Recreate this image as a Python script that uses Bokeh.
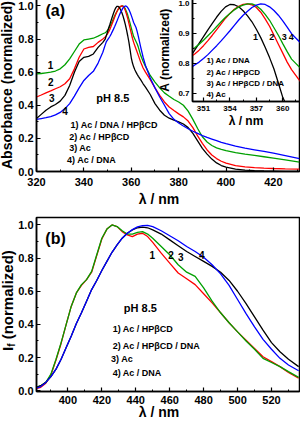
from bokeh.plotting import figure
from bokeh.models import (Range1d, SingleIntervalTicker, FixedTicker,
                          NumeralTickFormatter, Label, GridBox, Div)
from bokeh.embed import file_html
from bokeh.resources import INLINE

FONT = "Liberation Sans"

# ---------------- panel (a): absorption ----------------
wl_a = [320, 322, 324, 326, 328, 330, 332, 334, 336, 338, 340, 342, 344, 346, 348,
        349, 349.5, 350, 350.5, 351, 351.5, 352, 352.5, 353, 353.5, 354, 354.5, 355,
        355.5, 356, 356.5, 357, 357.5, 358, 358.5, 359, 359.5, 360, 360.5, 361, 361.5,
        362, 362.5,
        363, 364, 365, 366,
        368, 370, 372, 374, 376, 378, 380, 382, 384, 386, 388, 390, 392, 394, 396, 398, 400,
        404, 408, 412, 416, 420, 425, 431]

abs_ac_dna_hpbcd = [0.59, 0.592, 0.596, 0.60, 0.607, 0.62, 0.645, 0.68, 0.725, 0.77, 0.795, 0.80, 0.805, 0.818, 0.832,
                    0.838, 0.845, 0.853, 0.865, 0.878, 0.893, 0.908, 0.924, 0.94, 0.955, 0.968, 0.98, 0.99,
                    0.996, 1.0, 1.0, 0.994, 0.982, 0.965, 0.945, 0.92, 0.895, 0.867, 0.84, 0.815, 0.80,
                    0.785, 0.77,
                    0.75, 0.70, 0.665, 0.635,
                    0.58, 0.54, 0.505, 0.475, 0.455, 0.435, 0.42, 0.40, 0.365, 0.315, 0.26, 0.21, 0.178, 0.157, 0.143, 0.134, 0.126,
                    0.114, 0.105, 0.097, 0.089, 0.081, 0.07, 0.056]

abs_ac_hpbcd = [0.45, 0.462, 0.475, 0.487, 0.50, 0.512, 0.53, 0.56, 0.62, 0.69, 0.74, 0.75, 0.755, 0.78, 0.80,
                0.812, 0.822, 0.832, 0.845, 0.86, 0.877, 0.895, 0.914, 0.933, 0.952, 0.968, 0.982, 0.992,
                0.998, 1.0, 0.997, 0.988, 0.972, 0.95, 0.925, 0.895, 0.865, 0.835, 0.805, 0.78, 0.76,
                0.74, 0.72,
                0.70, 0.66, 0.625, 0.60,
                0.555, 0.505, 0.46, 0.42, 0.39, 0.368, 0.348, 0.33, 0.305, 0.265, 0.215, 0.17, 0.13, 0.10, 0.078, 0.062, 0.05,
                0.036, 0.028, 0.023, 0.02, 0.018, 0.016, 0.014]

abs_ac = [0.32, 0.345, 0.37, 0.39, 0.405, 0.425, 0.46, 0.52, 0.60, 0.665, 0.69, 0.695, 0.71, 0.75, 0.78,
          0.80, 0.822, 0.845, 0.868, 0.89, 0.913, 0.935, 0.956, 0.975, 0.99, 0.998, 0.997, 0.99,
          0.977, 0.96, 0.94, 0.915, 0.887, 0.855, 0.82, 0.782, 0.735, 0.687, 0.655, 0.632, 0.615,
          0.60, 0.587,
          0.575, 0.553, 0.53, 0.51,
          0.465, 0.41, 0.37, 0.34, 0.322, 0.31, 0.30, 0.287, 0.265, 0.23, 0.185, 0.14, 0.105, 0.075, 0.052, 0.036, 0.026,
          0.014, 0.008, 0.005, 0.003, 0.002, 0.001, 0.0]

abs_ac_dna = [0.315, 0.32, 0.325, 0.332, 0.342, 0.357, 0.38, 0.41, 0.455, 0.505, 0.55, 0.58, 0.605, 0.655, 0.72,
              0.765, 0.785, 0.795, 0.805, 0.817, 0.83, 0.845, 0.86, 0.876, 0.893, 0.91, 0.928, 0.946,
              0.962, 0.975, 0.988, 0.996, 1.0, 0.998, 0.99, 0.978, 0.962, 0.943, 0.922, 0.90, 0.885,
              0.87, 0.845,
              0.815, 0.75, 0.69, 0.64,
              0.565, 0.505, 0.45, 0.40, 0.35, 0.315, 0.293, 0.275, 0.258, 0.243, 0.23, 0.217, 0.206, 0.196, 0.186, 0.176, 0.168,
              0.153, 0.141, 0.131, 0.121, 0.111, 0.096, 0.078]

legend_a = ["1) Ac / DNA / HP\u03b2CD", "2) Ac / HP\u03b2CD", "3) Ac", "4) Ac / DNA"]
legend_inset = ["1) Ac / DNA", "2) Ac / HP\u03b2CD", "3) Ac / HP\u03b2CD / DNA", "4) Ac"]

# ---------------- panel (b): fluorescence ----------------
wl_b = [381.5, 384, 387, 390, 393, 396, 399, 402, 405, 408, 411, 414, 417, 420, 423, 426,
        429, 432, 435, 438, 441, 444, 447, 450, 455, 460, 465, 470, 475, 480, 485, 490,
        495, 500, 505, 510, 515, 520, 525, 530, 536]

fl_ac_hpbcd = [0.012, 0.02, 0.045, 0.095, 0.185, 0.285, 0.40, 0.51, 0.59, 0.635, 0.67, 0.715, 0.815, 0.915, 0.975, 1.0,
               0.99, 0.96, 0.94, 0.93, 0.945, 0.95, 0.93, 0.895, 0.83, 0.77, 0.71, 0.675, 0.64, 0.585, 0.53, 0.47,
               0.41, 0.355, 0.305, 0.255, 0.205, 0.175, 0.145, 0.11, 0.075]
fl_ac_hpbcd_dna = [0.02, 0.03, 0.05, 0.10, 0.19, 0.29, 0.40, 0.51, 0.59, 0.64, 0.67, 0.72, 0.82, 0.92, 0.975, 1.0,
                   0.99, 0.965, 0.945, 0.945, 0.955, 0.96, 0.945, 0.92, 0.87, 0.82, 0.76, 0.715, 0.69, 0.62, 0.54, 0.47,
                   0.41, 0.355, 0.30, 0.25, 0.195, 0.17, 0.145, 0.115, 0.08]
fl_ac = [0.02, 0.03, 0.05, 0.085, 0.13, 0.19, 0.26, 0.33, 0.405, 0.47, 0.54, 0.61, 0.665, 0.725, 0.78, 0.835,
         0.88, 0.92, 0.95, 0.97, 0.983, 0.987, 0.983, 0.97, 0.945, 0.91, 0.875, 0.84, 0.81, 0.78, 0.75, 0.715,
         0.665, 0.60, 0.525, 0.445, 0.365, 0.29, 0.235, 0.19, 0.145]
fl_ac_dna = [0.015, 0.025, 0.05, 0.085, 0.13, 0.19, 0.26, 0.33, 0.405, 0.47, 0.54, 0.61, 0.665, 0.725, 0.78, 0.835,
             0.88, 0.92, 0.95, 0.972, 0.988, 0.996, 0.998, 0.99, 0.965, 0.935, 0.905, 0.87, 0.84, 0.805, 0.76, 0.705,
             0.635, 0.55, 0.465, 0.385, 0.31, 0.25, 0.195, 0.155, 0.12]

legend_b = ["1) Ac / HP\u03b2CD", "2) Ac / HP\u03b2CD / DNA", "3) Ac", "4) Ac / DNA"]

BLACK, RED, GREEN, BLUE = "#000000", "#ff0000", "#00a000", "#0000ff"
LW = 1.3


def style(p, tick_size="11px", title_size="14px"):
    p.outline_line_color = "black"
    p.outline_line_width = 1.5
    p.xgrid.visible = False
    p.ygrid.visible = False
    for ax in list(p.xaxis) + list(p.yaxis):
        ax.major_tick_in = 4
        ax.major_tick_out = 0
        ax.minor_tick_in = 2
        ax.minor_tick_out = 0
        ax.axis_line_width = 1.5
        ax.major_tick_line_width = 1.2
        ax.major_label_text_font = FONT
        ax.major_label_text_font_style = "bold"
        ax.major_label_text_font_size = tick_size
        ax.major_label_text_color = "black"
        ax.axis_label_text_font = FONT
        ax.axis_label_text_font_style = "bold"
        ax.axis_label_text_font_size = title_size
        ax.axis_label_text_color = "black"
        ax.major_label_standoff = 3
        ax.axis_label_standoff = 0


def lab(p, x, y, text, size, align="left", baseline="middle"):
    p.add_layout(Label(x=x, y=y, text=text, text_font=FONT, text_font_style="bold",
                       text_font_size=size, text_align=align, text_baseline=baseline,
                       text_color="black"))


def html_title(text, width, height, margin, vertical=False, size=14):
    font = ("font-family:'Liberation Sans';font-weight:bold;font-size:%dpx;"
            "line-height:%dpx;color:#000;white-space:nowrap;overflow:visible;" % (size, size + 2))
    if vertical:
        html = ('<div style="width:%dpx;height:%dpx;writing-mode:vertical-rl;'
                'transform:rotate(180deg);text-align:center;%s">%s</div>'
                % (width, height, font, text))
    else:
        html = '<div style="width:%dpx;text-align:center;%s">%s</div>' % (width, font, text)
    return Div(text=html, width=width, height=height, margin=margin)


# ---- main (a)
pa = figure(width=304, height=210, x_range=Range1d(320, 431), y_range=Range1d(0, 1.045),
            output_backend="svg", toolbar_location=None,
            min_border_top=1, min_border_right=1, min_border_left=38, min_border_bottom=31,
            y_axis_label="Absorbance (normalized)")
style(pa)
pa.xaxis.major_label_standoff = 6
pa.xaxis.ticker = SingleIntervalTicker(interval=20, num_minor_ticks=2)
pa.yaxis.ticker = SingleIntervalTicker(interval=0.2, num_minor_ticks=2)
pa.yaxis.formatter = NumeralTickFormatter(format="0.0")
pa.line(wl_a, abs_ac_dna_hpbcd, color=GREEN, line_width=LW)
pa.line(wl_a, abs_ac_hpbcd, color=RED, line_width=LW)
pa.line(wl_a, abs_ac, color=BLACK, line_width=LW)
pa.line(wl_a, abs_ac_dna, color=BLUE, line_width=LW)
lab(pa, 323.8, 0.97, "(a)", "16px")
lab(pa, 352.2, 0.444, "pH 8.5", "11px", align="center")
for t, x, y in [("1", 325.9, 0.645), ("2", 326.0, 0.542), ("3", 326.4, 0.444), ("4", 332.0, 0.367)]:
    lab(pa, x, y, t, "10px", align="center")
for t, x, y in zip(legend_a, [334.4, 333.8, 333.8, 332.9], [0.281, 0.211, 0.140, 0.070]):
    lab(pa, x, y, t, "9px")
xtitle_a = html_title("\u03bb / nm", 60, 16, (194, 0, 0, 133))

# ---- inset
pi = figure(width=148, height=140, x_range=Range1d(349.75, 361.9), y_range=Range1d(0.673, 1.018),
            output_backend="svg", toolbar_location=None,
            min_border_top=1, min_border_right=1, min_border_left=32, min_border_bottom=36,
            x_axis_label="\u03bb / nm", y_axis_label="A (normalized)",
            margin=(0, 0, 0, 156))
style(pi, tick_size="8px", title_size="12px")
pi.yaxis.axis_label_standoff = 3
pi.xaxis.major_label_standoff = 4
pi.border_fill_color = None
pi.background_fill_color = "white"
pi.xaxis.ticker = FixedTicker(ticks=[351, 354, 357, 360], minor_ticks=[352.5, 355.5, 358.5, 361.5])
pi.yaxis.ticker = FixedTicker(ticks=[0.7, 0.8, 0.9, 1.0], minor_ticks=[0.75, 0.85, 0.95])
pi.yaxis.formatter = NumeralTickFormatter(format="0.0")
pi.line(wl_a, abs_ac, color=BLACK, line_width=LW)
pi.line(wl_a, abs_ac_hpbcd, color=RED, line_width=LW)
pi.line(wl_a, abs_ac_dna_hpbcd, color=GREEN, line_width=LW)
pi.line(wl_a, abs_ac_dna, color=BLUE, line_width=LW)
for t, x in [("1", 356.9), ("2", 358.75), ("3", 360.17), ("4", 360.95)]:
    lab(pi, x, 0.889, t, "9px", align="center")
for t, y in zip(legend_inset, [0.811, 0.771, 0.732, 0.697]):
    lab(pi, 351.34, y, t, "8px")

# ---- panel (b)
pb = figure(width=304, height=213, x_range=Range1d(381.5, 536.5), y_range=Range1d(-0.005, 1.045),
            output_backend="svg", toolbar_location=None,
            min_border_top=10, min_border_right=1, min_border_left=38, min_border_bottom=29)
style(pb)
pb.xaxis.major_label_standoff = 4
pb.xaxis.ticker = SingleIntervalTicker(interval=20, num_minor_ticks=2)
pb.yaxis.ticker = SingleIntervalTicker(interval=0.2, num_minor_ticks=2)
pb.yaxis.formatter = NumeralTickFormatter(format="0.0")
pb.line(wl_b, fl_ac_hpbcd, color=RED, line_width=LW)
pb.line(wl_b, fl_ac_hpbcd_dna, color=GREEN, line_width=LW)
pb.line(wl_b, fl_ac, color=BLACK, line_width=LW)
pb.line(wl_b, fl_ac_dna, color=BLUE, line_width=LW)
lab(pb, 386.7, 0.918, "(b)", "16px")
lab(pb, 442.7, 0.50, "pH 8.5", "11px", align="center")
for t, x, y in [("1", 449.7, 0.818), ("2", 460.8, 0.818), ("3", 466.6, 0.806), ("4", 478.9, 0.818)]:
    lab(pb, x, y, t, "10px", align="center")
for t, x, y in zip(legend_b, [426.4, 426.4, 425.4, 426.4], [0.375, 0.27, 0.192, 0.104]):
    lab(pb, x, y, t, "9px")
ytitle_b = html_title('I<sub style="font-size:10px;">f</sub> (normalized)', 22, 150, (19, 0, 0, 3),
                      vertical=True, size=15)
xtitle_b = html_title("\u03bb / nm", 60, 16, (197, 0, 0, 133))

grid = GridBox(children=[(pa, 0, 0), (pi, 0, 0), (xtitle_a, 0, 0),
                         (pb, 1, 0), (ytitle_b, 1, 0), (xtitle_b, 1, 0)],
               margin=(-3, 0, 0, -4))

open("out.html", "w").write(file_html(grid, INLINE))
